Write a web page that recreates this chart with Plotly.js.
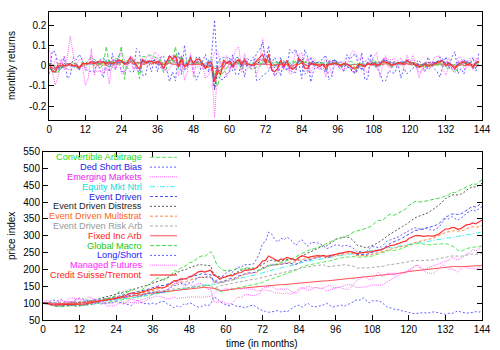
<!DOCTYPE html>
<html>
<head>
<meta charset="utf-8">
<script src="https://cdn.plot.ly/plotly-3.0.1.min.js"></script>
<style>
  html, body { margin: 0; padding: 0; background: #fff; }
  #chart { width: 500px; height: 350px; }
</style>
</head>
<body>
<div id="chart"></div>
<script>
// ====== data: price index per strategy, month 0..144 ======
const names = [
  "Convertible Arbitrage", "Ded Short Bias", "Emerging Markets", "Equity Mkt Ntrl",
  "Event Driven", "Event Driven Distress", "Event Driven Multistrat", "Event Driven Risk Arb",
  "Fixed Inc Arb", "Global Macro", "Long/Short", "Managed Futures", "Credit Suisse/Tremont"
];

const convArb = [100,
  101,99,96,93,92,92,93,93,93,92,91,92,
  93,94,95,97,98,99,100,101,102,104,105,107,
  109,110,111,113,115,116,117,119,120,122,124,127,
  128,129,130,131,133,135,137,139,141,142,143,145,
  147,148,150,151,152,152,152,145,140,134,136,138,
  141,142,144,147,149,151,152,153,155,157,159,161,
  166,170,172,175,178,181,184,188,191,195,198,202,
  208,211,213,215,218,219,221,223,224,225,228,231,
  234,235,236,237,238,238,236,236,237,236,238,240,
  244,246,249,252,255,258,256,257,260,263,268,271,
  274,276,277,276,275,273,273,274,275,276,277,277,
  274,271,266,257,254,257,262,264,266,266,268,270];

const dedShort = [100,
  96,103,110,108,106,111,104,99,103,106,112,115,
  113,110,107,104,106,103,97,100,97,103,101,106,
  103,100,99,96,93,101,108,103,98,100,97,100,
  97,101,106,104,96,93,86,92,88,97,96,101,
  98,91,88,90,95,92,97,119,114,106,99,95,
  92,97,93,89,91,86,89,91,95,88,82,78,
  75,73,74,77,78,74,76,74,80,85,92,94,
  88,95,99,91,89,90,92,95,100,93,88,91,
  92,94,91,96,99,104,110,109,116,108,101,107,
  108,107,103,95,88,86,83,80,81,76,75,72,
  70,69,70,72,72,70,73,74,73,71,67,67,
  70,69,72,77,74,73,70,72,72,75,73,78];

const emergMkts = [100,
  109,106,96,91,94,92,96,110,116,115,113,113,
  102,96,104,99,101,104,100,99,90,93,91,94,
  101,104,103,108,112,110,106,109,112,115,118,126,
  133,138,134,137,143,150,158,160,166,154,150,159,
  150,154,158,158,148,141,140,104,103,104,105,99,
  97,100,108,118,117,124,126,124,122,125,127,144,
  147,150,152,144,139,143,140,143,137,132,129,136,
  145,143,138,140,145,146,143,144,136,139,142,144,
  147,149,153,155,155,150,146,147,147,148,151,154,
  154,153,153,158,164,169,174,180,184,191,193,199,
  204,210,213,205,200,203,206,210,214,217,221,224,
  227,236,232,228,233,238,246,250,259,255,262,270];

const eqMktNtrl = [100,
  101,100,99,99,98,98,99,99,98,98,97,98,
  99,100,101,101,103,104,104,105,107,107,108,109,
  111,112,113,115,116,117,119,120,121,124,125,127,
  128,129,131,133,135,136,138,139,141,143,144,146,
  148,149,151,153,154,156,157,156,158,160,162,165,
  166,168,170,171,174,176,177,180,182,184,187,190,
  193,196,199,200,202,204,205,209,211,213,217,219,
  222,223,224,226,227,228,230,232,234,236,237,239,
  241,242,243,245,246,248,249,250,252,254,255,257,
  258,258,260,262,265,266,266,267,269,271,273,275,
  277,278,279,279,281,282,284,285,287,289,291,293,
  294,294,297,298,299,301,303,304,306,307,309,311];

const eventDriven = [100,
  101,101,100,99,99,99,99,100,100,101,100,101,
  102,103,105,106,108,109,111,112,114,115,117,119,
  121,123,124,127,129,130,132,135,137,140,143,147,
  149,151,151,153,157,160,164,165,169,170,172,176,
  179,182,186,187,186,186,185,164,163,162,165,167,
  172,172,174,180,183,187,189,190,190,192,198,205,
  207,213,213,213,213,215,217,219,219,216,215,220,
  226,227,227,230,234,236,237,239,234,237,240,245,
  248,248,251,253,254,250,244,244,243,244,248,250,
  254,256,259,266,273,278,282,285,289,294,299,305,
  311,315,317,319,320,324,326,328,332,337,346,355,
  359,364,365,363,364,370,378,383,388,385,391,400];

const edDistress = [100,
  101,102,100,99,98,99,100,100,101,102,100,101,
  103,104,106,108,110,112,114,116,119,121,124,127,
  130,132,134,137,140,142,144,147,150,153,156,160,
  163,166,168,172,177,182,187,190,195,198,200,205,
  208,211,214,214,212,212,211,186,182,178,177,180,
  184,185,188,194,198,201,203,203,203,205,209,215,
  220,226,227,225,224,226,228,230,231,228,227,232,
  240,245,248,253,258,262,266,270,270,276,283,290,
  294,293,296,296,292,283,272,270,266,264,267,270,
  275,280,285,292,300,306,311,317,322,328,333,340,
  347,353,357,360,362,367,372,378,384,392,401,410,
  415,420,422,421,423,428,436,441,446,444,449,456];

const edMultistrat = [100,
  101,100,100,99,99,98,99,100,100,100,99,100,
  101,102,104,104,105,107,107,108,110,110,111,112,
  114,117,118,121,123,124,126,129,130,133,135,138,
  140,143,144,147,150,153,157,159,162,163,164,168,
  171,173,176,177,177,176,176,162,160,159,162,165,
  168,169,171,177,181,185,187,188,189,191,197,203,
  206,211,212,213,214,216,218,221,222,221,222,227,
  230,232,231,233,236,238,239,240,236,238,240,242,
  244,244,246,248,249,246,241,241,240,241,243,245,
  247,248,250,254,258,261,263,265,267,268,270,273,
  277,280,282,284,285,288,290,293,297,300,305,310,
  312,315,315,313,314,317,321,324,327,325,327,330];

const edRiskArb = [100,
  100,101,101,101,102,102,103,103,104,104,104,105,
  106,107,108,109,110,111,112,113,114,115,117,118,
  119,120,121,123,124,125,127,128,129,131,132,134,
  135,136,137,138,139,141,142,143,144,145,146,147,
  148,149,151,152,152,153,153,144,148,151,153,155,
  157,159,160,162,164,166,167,169,171,172,174,176,
  178,181,184,186,187,189,191,194,196,197,199,202,
  205,206,206,209,211,212,213,214,208,209,211,213,
  214,213,214,213,211,209,204,204,203,203,205,206,
  207,207,207,210,213,215,216,217,218,220,221,224,
  226,227,226,226,226,227,228,228,230,232,235,237,
  238,240,240,239,239,241,243,245,246,245,245,247];

const fixedIncArb = [100,
  100,99,97,98,99,99,100,100,100,101,100,100,
  101,102,103,105,105,106,108,108,109,111,112,113,
  115,116,117,119,120,122,124,125,126,128,129,131,
  132,133,134,135,137,138,139,140,141,141,142,143,
  144,145,146,147,147,146,146,144,142,138,137,139,
  140,141,142,144,144,145,146,147,147,148,149,150,
  151,152,152,153,154,155,155,156,156,156,157,158,
  160,161,161,162,163,164,165,166,166,167,168,170,
  171,172,173,174,174,175,176,177,178,178,179,180,
  181,182,183,184,186,186,186,187,189,191,192,194,
  195,196,197,197,198,200,201,202,203,204,206,207,
  208,208,209,208,208,209,209,210,210,211,211,211];

const globalMacro = [100,
  99,96,93,90,90,89,90,91,93,93,92,94,
  93,95,99,102,104,103,104,114,113,115,119,123,
  135,126,130,135,138,140,131,137,143,150,158,165,
  171,176,170,168,176,180,197,194,203,207,212,220,
  222,228,236,240,238,245,253,238,214,205,198,196,
  198,197,201,204,200,203,205,202,199,198,197,201,
  206,210,214,214,217,222,224,228,230,233,238,244,
  248,252,257,260,262,264,268,272,276,280,285,290,
  294,295,297,300,306,312,314,316,320,322,326,330,
  340,346,345,350,360,364,360,364,370,374,380,390,
  395,402,401,400,402,404,405,407,408,410,414,418,
  421,428,428,431,437,440,446,448,455,452,459,466];

const longShort = [100,
  99,97,94,93,92,92,93,94,93,93,91,92,
  93,94,96,98,99,102,106,107,109,108,111,113,
  116,117,118,122,125,123,119,122,125,127,130,132,
  134,133,131,134,141,146,153,152,160,156,156,161,
  162,169,176,178,175,180,178,166,168,174,181,188,
  196,191,199,207,206,214,214,214,216,230,248,277,
  283,311,305,290,281,293,288,296,290,281,271,283,
  288,276,269,281,281,279,275,270,261,265,270,273,
  272,268,272,270,268,261,252,254,248,253,262,268,
  267,265,267,276,285,288,292,296,298,305,309,315,
  320,324,322,318,320,324,318,316,321,326,340,351,
  350,357,352,346,352,358,369,371,378,373,380,387];

const mgdFutures = [100,
  97,95,98,101,103,108,106,104,104,105,108,112,
  109,112,118,114,111,108,104,103,100,99,101,104,
  100,97,99,104,101,102,100,101,104,110,114,116,
  121,120,118,115,113,114,119,113,116,116,117,120,
  119,118,118,116,118,119,120,128,137,138,138,145,
  141,145,142,146,141,144,142,141,142,136,137,138,
  139,137,136,131,130,130,128,131,127,128,137,144,
  146,145,152,146,147,145,144,145,150,154,146,147,
  147,144,142,140,147,158,168,173,181,176,170,173,
  180,192,181,181,190,188,186,189,187,190,188,198,
  200,211,212,199,196,190,190,188,195,204,214,210,
  200,202,199,192,200,208,205,203,204,200,207,214];

const csTremont = [100,
  101,98,95,95,95,95,95,96,96,96,95,96,
  97,98,100,101,103,105,107,108,110,111,113,116,
  119,120,122,127,130,130,128,132,134,137,140,142,
  145,147,145,147,154,159,167,166,172,171,172,179,
  181,187,193,195,192,195,198,183,179,171,176,178,
  182,181,185,190,191,197,198,199,200,205,213,225,
  227,240,235,228,225,231,230,236,234,230,228,236,
  241,238,235,238,240,241,240,242,239,241,243,246,
  248,248,251,253,253,250,247,249,250,249,252,253,
  256,256,258,263,268,271,272,274,278,282,284,292,
  296,300,301,299,298,300,299,299,302,306,313,320,
  320,324,324,319,321,326,333,334,338,335,340,347];

const prices = [convArb, dedShort, emergMkts, eqMktNtrl, eventDriven, edDistress,
  edMultistrat, edRiskArb, fixedIncArb, globalMacro, longShort, mgdFutures, csTremont];

// legend text colours and (lighter) line colours
const textColors = ["#22dd22", "#2222ee", "#ee22ee", "#11dddd", "#2222dd", "#222222",
  "#ff6622", "#999999", "#ff2222", "#11cc11", "#2222ff", "#ff22ff", "#ff2222"];
const lineColors = ["#55ee55", "#6060ff", "#ff60ff", "#40eeee", "#5050f0", "#555555",
  "#ff8844", "#aaaaaa", "#ff5050", "#44dd44", "#6060ff", "#ff70ff", "#ff3030"];
const dashes = ["4px,2px", "2px,2px", "1px,1px", "5px,2px,1px,2px", "3px,2px", "2px,2px",
  "3px,2px", "3px,2px", "solid", "4px,2px", "2px,2px", "1px,1px", "solid"];
const widths = [1, 1, 1, 1, 1, 1, 1, 1, 1, 1, 1, 1, 1.2];

const monthTicks = [0, 12, 24, 36, 48, 60, 72, 84, 96, 108, 120, 132, 144];

// ====== geometry (pixels -> paper) ======
const W = 500, H = 350;
const M = { l: 43, r: 18, t: 12, b: 30 };
const pw = W - M.l - M.r, ph = H - M.t - M.b;
const px2x = (px) => (px - M.l) / pw;
const px2y = (py) => (H - M.b - py) / ph;

const months = prices[0].map((_, i) => i);

const traces = [];
prices.forEach((p, i) => {
  const line = { color: lineColors[i], dash: dashes[i], width: widths[i] };
  // monthly returns (top)
  const rets = p.slice(0, -1).map((v, t) => p[t + 1] / v - 1);
  traces.push({
    type: "scatter", mode: "lines", x: months.slice(0, -1), y: rets,
    xaxis: "x2", yaxis: "y2", line: line, showlegend: false, hoverinfo: "skip"
  });
  // price index (bottom)
  traces.push({
    type: "scatter", mode: "lines", x: months, y: p,
    xaxis: "x", yaxis: "y", line: line, showlegend: false, hoverinfo: "skip"
  });
});

const axisBase = {
  ticks: "inside", ticklen: 5, tickwidth: 1, tickcolor: "#000",
  showline: true, linecolor: "#000", linewidth: 1, mirror: "ticks",
  showgrid: false, zeroline: false, fixedrange: true
};

const annotations = [
  { text: "monthly returns", x: px2x(11), y: px2y(66), textangle: -90 },
  { text: "price index", x: px2x(11), y: px2y(236), textangle: -90 },
  { text: "time (in months)", x: px2x(262), y: px2y(343), textangle: 0 }
].map((a) => ({ ...a, xref: "paper", yref: "paper", showarrow: false,
  xanchor: "center", yanchor: "middle", font: { size: 10, color: "#000" } }));

const shapes = [];
names.forEach((n, i) => {
  const y = 157.3 + i * 9.81;
  annotations.push({
    text: n, xref: "paper", yref: "paper", x: px2x(143), y: px2y(y),
    xanchor: "right", yanchor: "middle", showarrow: false, borderpad: 0,
    font: { size: 9.2, color: textColors[i] }
  });
  shapes.push({
    type: "line", xref: "paper", yref: "paper",
    x0: px2x(150), x1: px2x(177), y0: px2y(y), y1: px2y(y),
    line: { color: lineColors[i], dash: dashes[i], width: widths[i] }
  });
});

const layout = {
  width: W, height: H,
  margin: M,
  paper_bgcolor: "#fff", plot_bgcolor: "#fff",
  font: { family: "Liberation Sans, Arial, sans-serif", size: 10, color: "#000" },
  showlegend: false,
  xaxis: { ...axisBase, domain: [0, 1], anchor: "y", range: [0, 144], tickvals: monthTicks },
  yaxis: { ...axisBase, domain: [0, px2y(151.5)], anchor: "x", range: [50, 550], dtick: 50 },
  xaxis2: { ...axisBase, domain: [px2x(49.3), 1], anchor: "y2", range: [0, 144], tickvals: monthTicks },
  yaxis2: { ...axisBase, domain: [px2y(119.5), 1], anchor: "x2", range: [-0.266, 0.266],
    tickvals: [-0.2, -0.1, 0, 0.1, 0.2], ticktext: ["-0.2", "-0.1", "0", "0.1", "0.2"] },
  annotations: annotations,
  shapes: shapes
};

Plotly.newPlot("chart", traces, layout, { staticPlot: true, displayModeBar: false });
</script>
</body>
</html>
